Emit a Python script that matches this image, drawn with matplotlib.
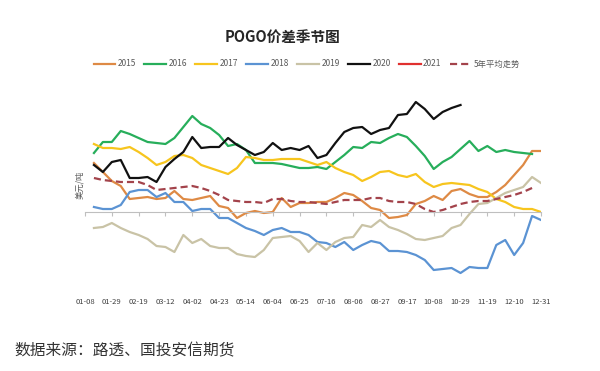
import matplotlib
matplotlib.use("Agg")
import matplotlib.pyplot as plt
import numpy as np

plt.rcParams["font.family"] = ["Noto Sans CJK SC", "DejaVu Sans"]

# x 轴刻度（每三周一个）
tick_labels = ["01-08", "01-29", "02-19", "03-12", "04-02", "04-23", "05-14", "06-04",
               "06-25", "07-16", "08-06", "08-27", "09-17", "10-08", "10-29", "11-19",
               "12-10", "12-31"]

# 各年度价差（美元/吨，自第 2 周起）
y2015 = [49, 40, 31, 26, 13, 14, 15, 13, 14, 21, 13, 12, 14, 16, 6, 4, -6, -1, 1, -1,
         0, 14, 5, 9, 9, 10, 10, 14, 19, 17, 11, 4, 2, -6, -5, -3, 8, 11, 16, 12,
         21, 23, 18, 15, 15, 20, 27, 37, 47, 61, 61]
y2016 = [59, 70, 70, 81, 78, 74, 70, 69, 68, 74, 85, 96, 88, 84, 77, 66, 68, 62, 49, 49,
         49, 48, 46, 44, 44, 45, 43, 50, 57, 65, 64, 70, 69, 74, 78, 75, 66, 56, 43, 50,
         55, 63, 71, 61, 66, 60, 62, 60, 59, 58]
y2017 = [68, 64, 64, 63, 65, 60, 54, 47, 50, 56, 57, 54, 47, 44, 41, 38, 44, 55, 54, 52,
         52, 53, 53, 53, 50, 47, 50, 44, 40, 37, 31, 35, 40, 41, 37, 35, 38, 30, 25, 28,
         29, 28, 27, 23, 20, 13, 10, 5, 3, 3, 0]
y2018 = [5, 3, 3, 7, 20, 22, 22, 15, 19, 10, 10, 1, 3, 3, -6, -6, -11, -16, -19, -23,
         -18, -16, -20, -20, -23, -30, -31, -35, -30, -38, -33, -29, -31, -39, -39, -40,
         -43, -48, -58, -57, -56, -61, -55, -56, -56, -33, -28, -43, -31, -4, -8]
y2019 = [-16, -15, -11, -16, -20, -23, -27, -34, -35, -40, -23, -31, -27, -34, -36, -36,
         -42, -44, -45, -38, -26, -25, -24, -29, -40, -31, -38, -30, -26, -25, -13, -15,
         -8, -15, -18, -22, -27, -28, -26, -24, -16, -13, -2, 8, 9, 14, 19, 22, 25, 35, 29]
y2020 = [47, 40, 50, 52, 34, 34, 35, 30, 45, 53, 60, 75, 64, 65, 65, 74, 67, 62, 57, 60,
         69, 62, 64, 62, 66, 54, 57, 69, 80, 84, 85, 78, 82, 84, 97, 98, 110, 103, 93, 100,
         104, 107]
y2021 = []
avg5 = [34, 32, 31, 30, 30, 30, 27, 22, 23, 24, 25, 26, 24, 21, 17, 12, 11, 10, 10, 9,
        13, 13, 11, 10, 10, 9, 8, 10, 12, 12, 12, 14, 14, 11, 10, 10, 8, 3, 0, 2,
        5, 8, 10, 11, 11, 13, 15, 17, 20, 24]

series = [
    ("2015", y2015, "#DE8A45", "-"),
    ("2016", y2016, "#27AE5B", "-"),
    ("2017", y2017, "#F7C51E", "-"),
    ("2018", y2018, "#5B93D3", "-"),
    ("2019", y2019, "#C9C3A6", "-"),
    ("2020", y2020, "#111111", "-"),
    ("2021", y2021, "#E0302F", "-"),
    ("5年平均走势", avg5, "#A3434B", "--"),
]

fig = plt.figure(figsize=(6, 3.71), dpi=100)
ax = fig.add_axes([85 / 600, 1 - 285 / 371, 456 / 600, 190 / 371])

handles = []
for name, vals, color, ls in series:
    x = np.arange(1, len(vals) + 1)
    (ln,) = ax.plot(x, vals, color=color, lw=1.6, ls=ls, label=name,
                    dashes=(3.2, 1.8) if ls == "--" else (None, None))
    handles.append(ln)

ax.set_xlim(0, 51)
ax.set_ylim(-73, 117)
for s in ["top", "right", "left"]:
    ax.spines[s].set_visible(False)
ax.spines["bottom"].set_position(("data", 0))
ax.spines["bottom"].set_color("#BFBFBF")
ax.spines["bottom"].set_linewidth(0.8)
ax.set_yticks([])
ax.set_xticks(np.arange(0, 52, 3))
ax.set_xticklabels(tick_labels, fontsize=5.5, color="#404040")
ax.tick_params(axis="x", direction="out", length=3, width=0.8, color="#BFBFBF", pad=59)

# 标题、图例、单位
fig.text(282 / 600, 1 - 37 / 371, "POGO价差季节图", ha="center", va="center",
         fontsize=10.5, fontweight="bold", color="#262626")
leg = fig.legend(handles, [s[0] for s in series], loc="center",
                 bbox_to_anchor=(307 / 600, 1 - 64 / 371), ncol=8, frameon=False,
                 fontsize=6, handlelength=2.6, handletextpad=0.3, columnspacing=1.0)
for t in leg.get_texts():
    t.set_color("#595959")
fig.text(80 / 600, 1 - 185 / 371, "美元/吨", rotation=90, ha="center", va="center",
         fontsize=6, color="#595959")

fig.text(14 / 600, 1 - 351 / 371, "数据来源：路透、国投安信期货", ha="left", va="center",
         fontsize=11.3, color="#333333")

fig.savefig("out.png", dpi=100, facecolor="white")
